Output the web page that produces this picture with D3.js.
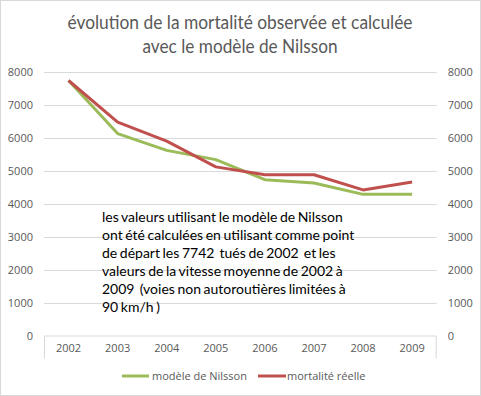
<!DOCTYPE html>
<html>
<head>
<meta charset="utf-8">
<script src="https://cdn.jsdelivr.net/npm/d3@7"></script>
<style>
  body { margin: 0; background: #fff; }
</style>
</head>
<body>
<div id="chart"></div>
<script>
// data
var years = ["2002", "2003", "2004", "2005", "2006", "2007", "2008", "2009"];
var nilsson = [7742, 6130, 5620, 5340, 4730, 4630, 4285, 4285];
var reelle = [7742, 6480, 5900, 5120, 4880, 4880, 4420, 4660];
var yTicks = [0, 1000, 2000, 3000, 4000, 5000, 6000, 7000, 8000];
var titleLines = ["évolution de la mortalité observée et calculée", "avec le modèle de Nilsson"];
var noteLines = [
  "les valeurs utilisant le modèle de Nilsson",
  "ont été calculées en utilisant comme point",
  "de départ les 7742  tués de 2002  et les",
  "valeurs de la vitesse moyenne de 2002 à",
  "2009  (voies non autoroutières limitées à",
  "90 km/h )"
];
var series = [
  { name: "modèle de Nilsson", values: nilsson, color: "#9BBB59" },
  { name: "mortalité réelle", values: reelle, color: "#C0504D" }
];

var svgWidth = 481;
var svgHeight = 396;
var margin = { top: 72, right: 44, bottom: 60, left: 44 };
var width = 436.7 - margin.left;
var height = 335.5 - margin.top;

var svg = d3.select("#chart")
  .append("svg")
  .attr("width", svgWidth)
  .attr("height", svgHeight);

// outer frame
svg.append("rect")
  .attr("x", 0.5).attr("y", 0.5)
  .attr("width", svgWidth - 1).attr("height", svgHeight - 1)
  .attr("fill", "none")
  .attr("stroke", "#D9D9D9");

// title (squeezed to the narrow Calibri look)
var titleWidths = [345, 195];
svg.append("text")
  .attr("text-anchor", "middle")
  .attr("fill", "#595959")
  .attr("font-family", "Lato, sans-serif")
  .attr("font-size", "18.5px")
  .selectAll("tspan")
  .data(titleLines)
  .enter()
  .append("tspan")
  .attr("x", 240)
  .attr("y", (d, i) => 29 + i * 24)
  .attr("textLength", (d, i) => titleWidths[i])
  .attr("lengthAdjust", "spacingAndGlyphs")
  .text(d => d);

var chartGroup = svg.append("g")
  .attr("transform", `translate(${margin.left}, ${margin.top})`);

var x = d3.scaleBand()
  .domain(years)
  .range([0, width]);

var y = d3.scaleLinear()
  .domain([0, 8000])
  .range([height, 0]);

// gridlines
chartGroup.selectAll(".grid")
  .data(yTicks.filter(d => d > 0))
  .enter()
  .append("line")
  .attr("x1", 0)
  .attr("x2", width)
  .attr("y1", d => Math.round(y(d)) + 0.5)
  .attr("y2", d => Math.round(y(d)) + 0.5)
  .attr("stroke", "#D9D9D9")
  .attr("stroke-width", 1);

function styleTicks(g) {
  g.select(".domain").remove();
  g.attr("font-family", "'Open Sans', sans-serif")
    .attr("font-size", "11px");
  g.selectAll("text").attr("fill", "#595959");
}

// left axis labels
chartGroup.append("g")
  .call(d3.axisLeft(y).tickValues(yTicks).tickFormat(d3.format("d")).tickSize(0).tickPadding(11))
  .call(styleTicks);

// right axis labels
chartGroup.append("g")
  .attr("transform", `translate(${width}, 0)`)
  .call(d3.axisRight(y).tickValues(yTicks).tickFormat(d3.format("d")).tickSize(0).tickPadding(11))
  .call(styleTicks);

// x axis: bottom line with end ticks hanging down
var xAxis = chartGroup.append("g")
  .attr("transform", `translate(0, ${height})`)
  .call(d3.axisBottom(x).tickSize(0).tickPadding(9))
  .call(styleTicks);
xAxis.append("path")
  .attr("d", `M0.5,23V0.5H${width - 0.5}V23`)
  .attr("fill", "none")
  .attr("stroke", "#D9D9D9");

// lines
var line = d3.line()
  .x((d, i) => x(years[i]) + x.bandwidth() / 2)
  .y(d => y(d));

chartGroup.selectAll(".series")
  .data(series)
  .enter()
  .append("path")
  .attr("d", d => line(d.values))
  .attr("fill", "none")
  .attr("stroke", d => d.color)
  .attr("stroke-width", 3)
  .attr("stroke-linejoin", "round");

// note text (keep the double spaces)
svg.append("text")
  .attr("fill", "#000")
  .attr("font-size", "14px")
  .attr("font-family", "Lato, sans-serif")
  .attr("word-spacing", "-1px")
  .style("white-space", "pre")
  .selectAll("tspan")
  .data(noteLines)
  .enter()
  .append("tspan")
  .attr("x", 102)
  .attr("y", (d, i) => 222 + i * 18)
  .text(d => d);

// legend
var legend = svg.append("g")
  .attr("transform", "translate(0, 376)");
var legendPos = [{ x1: 122, x2: 149, tx: 152 }, { x1: 258, x2: 286, tx: 287 }];
series.forEach((s, i) => {
  legend.append("line")
    .attr("x1", legendPos[i].x1)
    .attr("x2", legendPos[i].x2)
    .attr("y1", 0)
    .attr("y2", 0)
    .attr("stroke", s.color)
    .attr("stroke-width", 3);
  legend.append("text")
    .attr("x", legendPos[i].tx)
    .attr("y", 4)
    .attr("font-family", "'Open Sans', sans-serif")
    .attr("font-size", "11px")
    .attr("fill", "#595959")
    .text(s.name);
});
</script>
</body>
</html>
